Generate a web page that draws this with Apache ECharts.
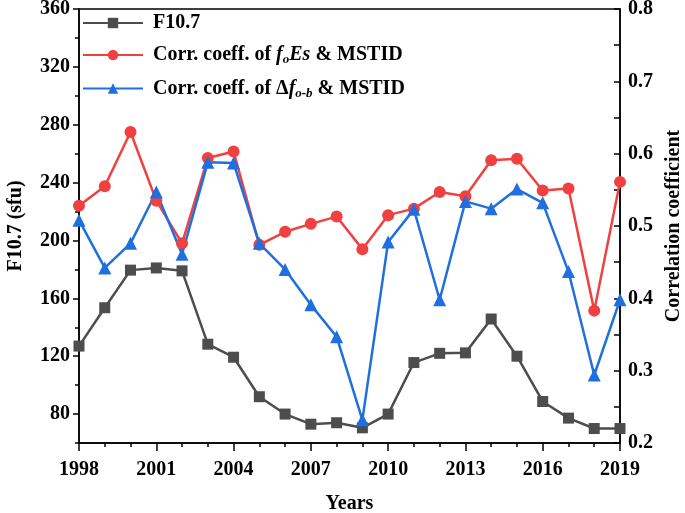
<!DOCTYPE html>
<html>
<head>
<meta charset="utf-8">
<script src="https://cdn.jsdelivr.net/npm/echarts@6/dist/echarts.min.js"></script>
<style>html,body{margin:0;padding:0;background:#fff}#c{width:685px;height:513px}</style>
</head>
<body>
<div id="c"></div>
<script>
var years = [1998,1999,2000,2001,2002,2003,2004,2005,2006,2007,2008,2009,2010,2011,2012,2013,2014,2015,2016,2017,2018,2019];
var f107 = [127,153.5,179.5,181,179,128.3,119.3,92,80,73,74,70.5,80,115.6,122,122.3,145.7,120,88.7,77.2,70,70];
var corrFoEs = [0.528,0.555,0.630,0.535,0.476,0.594,0.603,0.474,0.492,0.503,0.513,0.468,0.515,0.524,0.547,0.541,0.591,0.593,0.549,0.552,0.383,0.561];
var corrDf = [0.508,0.442,0.476,0.547,0.461,0.588,0.587,0.476,0.440,0.391,0.347,0.232,0.478,0.523,0.398,0.534,0.524,0.551,0.532,0.437,0.294,0.398];
var leftTicks = [80,120,160,200,240,280,320,360];
var leftMinor = [60,100,140,180,220,260,300,340];

function pairs(vals){ return years.map(function(y,i){ return [y, vals[i]]; }); }

var FONT = 'Liberation Serif';
var FS = 20;
var lbl = {color:'#000', fontFamily:FONT, fontWeight:'bold', fontSize:FS};
var chart = echarts.init(document.getElementById('c'));
chart.setOption({
  animation:false,
  backgroundColor:'#fff',
  grid:{left:79, right:65, top:9, bottom:70, containLabel:false, outerBoundsMode:'none',
        show:true, borderColor:'#000', borderWidth:1.5},
  legend:{
    orient:'vertical', left:82, top:13, padding:0, itemWidth:60, itemHeight:13, itemGap:12,
    data:['F10.7','foEs','df'],
    formatter:function(n){
      if(n==='F10.7') return 'F10.7';
      if(n==='foEs') return 'Corr. coeff. of {i|f}{s|o}{i|Es} & MSTID';
      return 'Corr. coeff. of Δ{i|f}{s|o-b} & MSTID';
    },
    textStyle:{color:'#000', fontFamily:FONT, fontWeight:'bold', fontSize:FS, padding:[0,0,0,5],
      rich:{
        i:{fontFamily:FONT, fontWeight:'bold', fontStyle:'italic', fontSize:FS, color:'#000'},
        s:{fontFamily:FONT, fontWeight:'bold', fontStyle:'italic', fontSize:13, color:'#000', padding:[10,0,0,0]}
      }}
  },
  xAxis:{
    type:'value', min:1998, max:2019, interval:3,
    name:'Years', nameLocation:'middle', nameGap:51,
    nameTextStyle:{color:'#000', fontFamily:FONT, fontWeight:'bold', fontSize:FS},
    axisLine:{show:true, lineStyle:{color:'#000', width:1.5}},
    axisTick:{show:true, length:8, lineStyle:{color:'#000', width:1.5}},
    minorTick:{show:true, splitNumber:3, length:4, lineStyle:{color:'#000', width:1.5}},
    splitLine:{show:false},
    axisLabel:Object.assign({margin:17, formatter:function(v){return String(v);}}, lbl)
  },
  yAxis:[{
    type:'value', min:60, max:360, position:'left',
    name:'F10.7 (sfu)', nameLocation:'middle', nameGap:53,
    nameTextStyle:{color:'#000', fontFamily:FONT, fontWeight:'bold', fontSize:FS},
    axisLine:{show:true, lineStyle:{color:'#000', width:1.5}},
    axisTick:{show:true, length:6, customValues:leftTicks, lineStyle:{color:'#000', width:1.5}},
    axisLabel:Object.assign({margin:9, customValues:leftTicks}, lbl),
    splitLine:{show:false}
  },{
    type:'value', min:0.2, max:0.8, interval:0.1, position:'right',
    name:'Correlation coefficient', nameLocation:'middle', nameGap:43,
    nameTextStyle:{color:'#000', fontFamily:FONT, fontWeight:'bold', fontSize:FS},
    axisLine:{show:true, lineStyle:{color:'#000', width:1.5}},
    axisTick:{show:true, inside:true, length:6, lineStyle:{color:'#000', width:1.5}},
    minorTick:{show:true, splitNumber:2, length:6, lineStyle:{color:'#000', width:1.5}},
    axisLabel:Object.assign({margin:8, formatter:function(v){return v.toFixed(1);}}, lbl),
    splitLine:{show:false}
  },{
    type:'value', min:60, max:360, position:'left', show:true,
    axisLine:{show:false},
    axisTick:{show:true, length:4, customValues:leftMinor, lineStyle:{color:'#000', width:1.5}},
    axisLabel:{show:false, customValues:leftMinor},
    splitLine:{show:false}
  }],
  series:[{
    name:'F10.7', type:'line', yAxisIndex:0, data:pairs(f107),
    symbol:'rect', symbolSize:11, color:'#4d4d4d',
    lineStyle:{width:2.5, color:'#4d4d4d'}, itemStyle:{color:'#4d4d4d'}
  },{
    name:'foEs', type:'line', yAxisIndex:1, data:pairs(corrFoEs),
    symbol:'circle', symbolSize:12, color:'#f04040',
    lineStyle:{width:2.5, color:'#f04040'}, itemStyle:{color:'#f04040'}
  },{
    name:'df', type:'line', yAxisIndex:1, data:pairs(corrDf),
    symbol:'triangle', symbolSize:13, color:'#1f6fdf',
    lineStyle:{width:2.5, color:'#1f6fdf'}, itemStyle:{color:'#1f6fdf'}
  }]
});
</script>
</body>
</html>
